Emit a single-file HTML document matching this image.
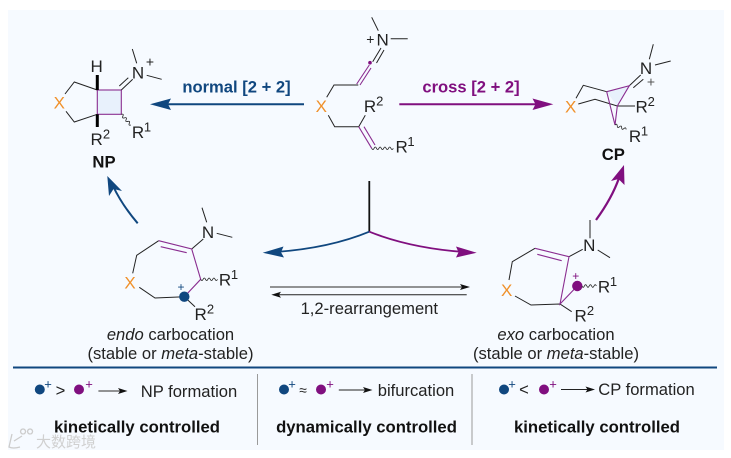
<!DOCTYPE html>
<html><head><meta charset="utf-8">
<style>
html,body{margin:0;padding:0;background:#fff;width:731px;height:458px;overflow:hidden}
svg{display:block}
text{font-family:"Liberation Sans",sans-serif;fill:#222}
.a{font-size:17px;text-anchor:middle}
.s{font-size:13px;text-anchor:middle}
.t{font-size:16.6px;text-anchor:middle}
.b{font-size:16.7px;font-weight:bold;text-anchor:middle;fill:#111}
.l{fill:none;stroke:#222;stroke-width:1}
.p{fill:none;stroke:#8a2d90;stroke-width:1.1}
.w{fill:none;stroke:#222;stroke-width:.8}
.x{font-size:17px;text-anchor:middle;fill:#f0912b}
</style></head><body>
<svg width="731" height="458" viewBox="0 0 731 458" xmlns="http://www.w3.org/2000/svg">
<rect x="8" y="10" width="716" height="440" fill="#f6faff"/>

<!-- NP -->
<rect x="97.3" y="90" width="24" height="24.3" fill="#e8f1fc" stroke="#8a2d90" stroke-width="1.1"/>
<path class="l" d="M97.3,90L74.3,82L65,94M66,111.3L74.3,122L97.3,114.3"/>
<path d="M97.3,75V90M97.3,114.3V127" stroke="#000" stroke-width="3" fill="none"/>
<path class="l" d="M121.3,90L132.7,79.3M119.3,86L128.3,77.7M132.3,49L136.7,63.3M146.7,75.3L161.7,79.3"/>
<path class="w" transform="translate(121.3,114.3) rotate(48)" d="M0,0q1.2,-2.6 2.4,0t2.4,0t2.4,0t2.4,0t2.4,0t2.4,0"/>
<text class="x" x="59.3" y="108.7">X</text>
<text class="a" x="96.7" y="72">H</text>
<text class="a" x="138" y="78.5">N</text>
<text class="s" x="150" y="66.5" style="font-size:14px">+</text>
<text class="a" x="138" y="138">R</text><text class="s" x="147.5" y="131.5">1</text>
<text class="a" x="96.7" y="145">R</text><text class="s" x="106.5" y="138.5">2</text>
<text class="b" x="104" y="167.5">NP</text>

<!-- normal arrow -->
<path d="M304,104.3H165" stroke="#10477f" stroke-width="2" fill="none"/>
<path d="M150,104.3L171,98.5L168,104.3L171,110Z" fill="#10477f"/>
<text x="236.5" y="92.5" style="font-size:16.6px;font-weight:bold;text-anchor:middle;fill:#10477f">normal [2 + 2]</text>

<!-- top substrate -->
<path class="l" d="M326.7,97.3L334,85H358.3M328.3,115.3L334.7,126.7H358.7L365.3,115.3M372.7,61.7L381,48M376.5,63L384,50M371.7,17.3L378.3,30.7M390.7,38.7H407.7"/>
<path class="p" d="M356.7,84L369.3,65M360,85L371,68M358.7,126.7L371.7,148.3M364,126.7L375,145"/>
<circle cx="370" cy="62.7" r="1.8" fill="#800f7f"/>
<path class="w" d="M371.7,148.3q1.2,2.6 2.4,0t2.4,0t2.4,0t2.4,0t2.4,0t2.4,0t2.4,0t2.4,0t2.4,0"/>
<text class="x" x="321.3" y="112">X</text>
<text class="a" x="382.7" y="45.5">N</text>
<text class="s" x="370.3" y="44" style="font-size:14px">+</text>
<text class="a" x="370" y="112">R</text><text class="s" x="379.8" y="105.5">2</text>
<text class="a" x="401.7" y="152.5">R</text><text class="s" x="411" y="146">1</text>

<!-- cross arrow -->
<path d="M399.3,104.3H538" stroke="#800f7f" stroke-width="2" fill="none"/>
<path d="M553.3,104.3L532.5,98.5L535.5,104.3L532.5,110Z" fill="#800f7f"/>
<text x="471" y="92.5" style="font-size:16.6px;font-weight:bold;text-anchor:middle;fill:#800f7f">cross [2 + 2]</text>

<!-- CP -->
<path d="M606.7,91.7L629.3,85.7L617.3,106Z" fill="#e8f1fc"/>
<path class="l" d="M576,98.3L583.3,85.3L606.7,91.7M578.3,104L595,99.3L617.3,106H635M629.3,85.7L640.7,75M633.3,87.7L643.3,79.3M653.3,44.3L649.3,59.3M655,65L670.7,61"/>
<path class="p" d="M606.7,91.7L629.3,85.7L617.3,106L615,125L606.7,91.7"/>
<path class="w" transform="translate(615,125) rotate(22)" d="M0,0q1.2,-2.6 2.4,0t2.4,0t2.4,0t2.4,0t2.4,0"/>
<text class="x" x="570.7" y="112.7">X</text>
<text class="a" x="646" y="74">N</text>
<text class="s" x="651" y="86.5" style="font-size:14px;fill:#555">+</text>
<text class="a" x="641.7" y="112.7">R</text><text class="s" x="651.2" y="106">2</text>
<text class="a" x="635" y="142">R</text><text class="s" x="644.5" y="135.5">1</text>
<text class="b" x="613.3" y="160">CP</text>

<!-- curved arrows to products -->
<path d="M137.7,223.3Q122,205 113,186" stroke="#10477f" stroke-width="2" fill="none"/>
<path d="M107.3,176L122,191L113.5,189L109,196Z" fill="#10477f"/>
<path d="M596,220Q612,198 619,178" stroke="#800f7f" stroke-width="2.2" fill="none"/>
<path d="M624,165L624.5,185L618.5,179L611,181Z" fill="#800f7f"/>

<!-- centre fork -->
<path d="M369.3,181V231.7" stroke="#111" stroke-width="1.8" fill="none"/>
<path d="M369.3,231.7Q330,248 276,252" stroke="#10477f" stroke-width="1.8" fill="none"/>
<path d="M262.7,252.7L283.5,246.5L281,252.3L284,257.5Z" fill="#10477f"/>
<path d="M369.3,231.7Q410,248 464,252" stroke="#800f7f" stroke-width="1.8" fill="none"/>
<path d="M476.7,252.7L456,246.5L458.5,252.3L456,257.5Z" fill="#800f7f"/>

<!-- equilibrium -->
<path d="M270,287H462" stroke="#555" stroke-width="1.3" fill="none"/>
<path d="M470,287L460,284L462,287L460,290Z" fill="#111"/>
<path d="M466.7,294.7H278" stroke="#222" stroke-width="1" fill="none"/>
<path d="M271.3,294.7L281,291.7L279,294.7L281,297.7Z" fill="#111"/>
<text class="t" x="369.3" y="314">1,2-rearrangement</text>

<!-- endo -->
<path class="l" d="M132.7,273.3L136.7,255.3L158.7,240.7M139.3,287.3L155,298L184.3,296.7L195,306.7M191.7,249L203.3,239M202,207.7L206.7,222.3M216.7,233.3L232.3,237.3"/>
<path class="p" d="M158.7,240.7L191.7,249L200.7,279.3L184.3,296.7M160.7,246.7L186.7,252.7"/>
<circle cx="184.3" cy="296.7" r="5.2" fill="#10477f"/>
<text x="181" y="291" style="font-size:12px;text-anchor:middle;fill:#10477f">+</text>
<path class="w" d="M200.7,279.3q1.2,2.6 2.4,0t2.4,0t2.4,0t2.4,0t2.4,0t2.4,0t2.4,0"/>
<text class="x" x="130" y="288.7">X</text>
<text class="a" x="208" y="238">N</text>
<text class="a" x="225" y="285.5">R</text><text class="s" x="234.5" y="279">1</text>
<text class="a" x="200.7" y="320">R</text><text class="s" x="210.5" y="313.5">2</text>
<text class="t" x="170.5" y="340"><tspan font-style="italic">endo</tspan> carbocation</text>
<text class="t" x="170.5" y="359">(stable or <tspan font-style="italic">meta</tspan>-stable)</text>

<!-- exo -->
<path class="l" d="M509,280L512.3,261.7L535,248.3M515,296L531,305L560,304L571.7,311.7M569,256.7L582.7,249.3M590,220V238.3M597.7,250L610,257.7"/>
<path class="p" d="M535,248.3L569,256.7L560,304L577.3,286M537.3,254.3L561.7,260.7"/>
<circle cx="577.3" cy="286" r="5.2" fill="#800f7f"/>
<text x="575.7" y="280" style="font-size:12px;text-anchor:middle;fill:#800f7f">+</text>
<path class="w" d="M582,286q1.2,2.6 2.4,0t2.4,0t2.4,0t2.4,0t2.4,0t2.4,0"/>
<text class="x" x="506.7" y="296">X</text>
<text class="a" x="589.3" y="251">N</text>
<text class="a" x="604" y="292.5">R</text><text class="s" x="613.5" y="286">1</text>
<text class="a" x="580.7" y="321.5">R</text><text class="s" x="590.5" y="315">2</text>
<text class="t" x="556" y="340"><tspan font-style="italic">exo</tspan> carbocation</text>
<text class="t" x="556" y="359">(stable or <tspan font-style="italic">meta</tspan>-stable)</text>

<!-- divider -->
<path d="M13,367.5H717" stroke="#10477f" stroke-width="2" fill="none"/>
<path d="M257.5,374V445M472,374V445" stroke="#9a9a9a" stroke-width="1" fill="none"/>

<!-- bottom left -->
<circle cx="39.8" cy="389.5" r="5" fill="#10477f"/>
<text x="48" y="388.5" style="font-size:13px;text-anchor:middle;fill:#10477f">+</text>
<text class="t" x="60.5" y="396">&gt;</text>
<circle cx="79" cy="389.5" r="5" fill="#800f7f"/>
<text x="89" y="388.5" style="font-size:13px;text-anchor:middle;fill:#800f7f">+</text>
<path d="M98.4,391H122" stroke="#555" stroke-width="1.3" fill="none"/>
<path d="M127.5,391L118,388L120,391L118,394Z" fill="#111"/>
<text class="t" x="189" y="397">NP formation</text>
<text class="b" x="137" y="432.5">kinetically controlled</text>

<!-- bottom middle -->
<circle cx="284" cy="389.5" r="5" fill="#10477f"/>
<text x="292" y="388.5" style="font-size:13px;text-anchor:middle;fill:#10477f">+</text>
<text x="303" y="395" style="font-size:14px;text-anchor:middle">≈</text>
<circle cx="321" cy="389.5" r="5" fill="#800f7f"/>
<text x="330" y="388.5" style="font-size:13px;text-anchor:middle;fill:#800f7f">+</text>
<path d="M338.8,390H367" stroke="#222" stroke-width="1" fill="none"/>
<path d="M372.5,390L363,387L365,390L363,393Z" fill="#111"/>
<text class="t" x="416" y="396">bifurcation</text>
<text class="b" x="366.5" y="432.5">dynamically controlled</text>

<!-- bottom right -->
<circle cx="504" cy="389.5" r="5" fill="#10477f"/>
<text x="512" y="388.5" style="font-size:13px;text-anchor:middle;fill:#10477f">+</text>
<text class="t" x="524" y="395">&lt;</text>
<circle cx="544" cy="389.5" r="5" fill="#800f7f"/>
<text x="553" y="388.5" style="font-size:13px;text-anchor:middle;fill:#800f7f">+</text>
<path d="M561,389.5H590" stroke="#222" stroke-width="1" fill="none"/>
<path d="M595,389.5L585.5,386.5L587.5,389.5L585.5,392.5Z" fill="#111"/>
<text class="t" x="646.5" y="395">CP formation</text>
<text class="b" x="597" y="432.5">kinetically controlled</text>

<!-- watermark -->
<path d="M12,434L9,447Q13,449 20,447M14,441L22,436M23,434a2.5,2.5 0 1 1 0.1,0M30,434a2.5,2.5 0 1 1 0.1,0" fill="none" stroke="#ccc" stroke-width="1.3"/>
<text x="66" y="447" style="font-family:'Liberation Sans','Noto Sans CJK SC',sans-serif;font-size:15px;text-anchor:middle;fill:#d0d0d0">大数跨境</text>
</svg>
</body></html>
